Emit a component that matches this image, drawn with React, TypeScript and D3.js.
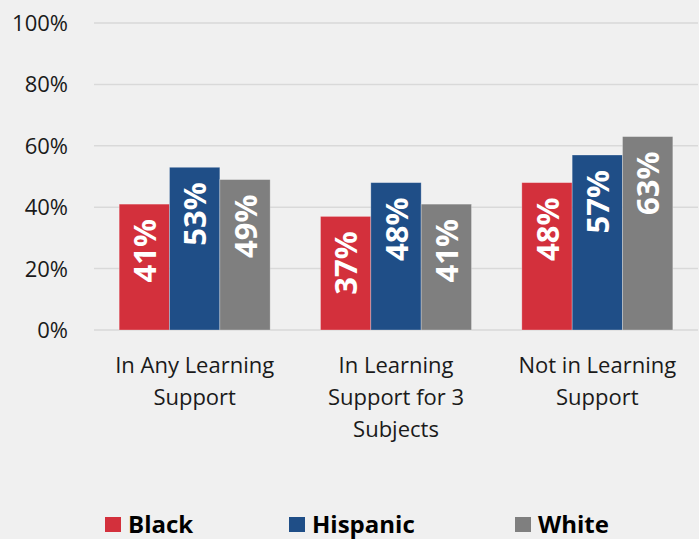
import React from "react";
import * as d3 from "d3";

const categories: string[][] = [
  ["In Any Learning", "Support"],
  ["In Learning", "Support for 3", "Subjects"],
  ["Not in Learning", "Support"],
];
const seriesNames = ["Black", "Hispanic", "White"];
const black = [41, 37, 48];
const hispanic = [53, 48, 57];
const white = [49, 41, 63];
const yTicks = [0, 20, 40, 60, 80, 100];
const colors = ["#D3303C", "#1F4E87", "#7F7F7F"];

const W = 699;
const H = 539;
const FONT = "'Open Sans', 'Noto Sans', sans-serif";

export default function App() {
  const series = [black, hispanic, white];
  const y = d3.scaleLinear().domain([0, 100]).range([330, 23]);
  const x0 = d3
    .scaleBand<number>()
    .domain(categories.map((_, i) => i))
    .range([94, 698])
    .paddingInner(0)
    .paddingOuter(0);
  const groupW = x0.bandwidth() * 0.75;
  const x1 = d3
    .scaleBand<number>()
    .domain(seriesNames.map((_, i) => i))
    .range([0, groupW])
    .padding(0);

  const legendX = [105, 289, 515];

  return (
    <svg
      width={W}
      height={H}
      style={{ position: "absolute", left: 0, top: 0, background: "#F0F0F0" }}
    >
      <rect x={0} y={0} width={W} height={H} fill="#F0F0F0" />
      {yTicks.map((t) => (
        <g key={t}>
          <line x1={94} x2={698} y1={y(t)} y2={y(t)} stroke="#D9D9D9" strokeWidth={1.5} />
          <text
            x={68}
            y={y(t)}
            dy="0.36em"
            textAnchor="end"
            fontFamily={FONT}
            fontSize={22}
            fill="#1a1a1a"
          >
            {t}%
          </text>
        </g>
      ))}
      {categories.map((_, ci) => {
        const gx = (x0(ci) as number) + (x0.bandwidth() - groupW) / 2;
        return (
          <g key={ci}>
            {series.map((vals, si) => {
              const bx = gx + (x1(si) as number);
              const bw = x1.bandwidth();
              const top = y(vals[ci]);
              const cx = bx + bw / 2;
              return (
                <g key={si}>
                  <rect
                    x={bx}
                    y={top}
                    width={bw}
                    height={y(0) - top}
                    fill={colors[si]}
                    stroke="rgba(255,255,255,0.35)"
                    strokeWidth={0.8}
                  />
                  <text
                    transform={`translate(${cx + 11.5},${top + 15}) rotate(-90)`}
                    textAnchor="end"
                    fontFamily={FONT}
                    fontWeight="bold"
                    fontSize={31}
                    fill="#ffffff"
                  >
                    {vals[ci]}%
                  </text>
                </g>
              );
            })}
            {categories[ci].map((line, li) => (
              <text
                key={li}
                x={(x0(ci) as number) + x0.bandwidth() / 2}
                y={373 + li * 32}
                textAnchor="middle"
                fontFamily={FONT}
                fontSize={22}
                fill="#1a1a1a"
              >
                {line}
              </text>
            ))}
          </g>
        );
      })}
      {seriesNames.map((name, si) => (
        <g key={name}>
          <rect x={legendX[si]} y={517} width={16} height={15} fill={colors[si]} />
          <text
            x={legendX[si] + 23}
            y={533}
            fontFamily={FONT}
            fontWeight="bold"
            fontSize={24}
            fill="#000"
          >
            {name}
          </text>
        </g>
      ))}
    </svg>
  );
}
